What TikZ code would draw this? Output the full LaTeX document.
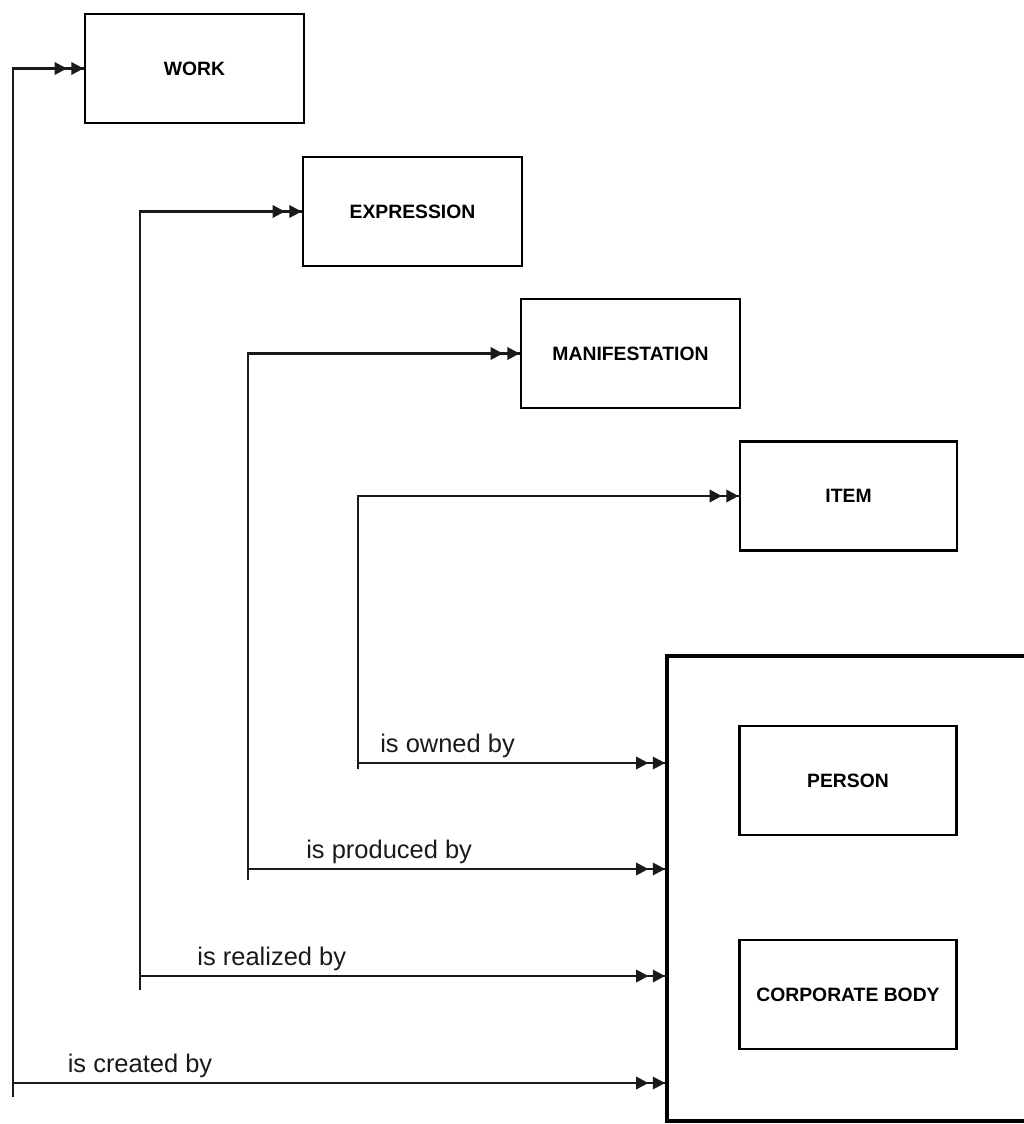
\documentclass[tikz,border=0pt]{standalone}
\usepackage{fontspec}
\setmainfont{Liberation Sans}
\usetikzlibrary{
    arrows.meta,
    positioning
}
\definecolor{frbrline}{HTML}{1A1A1A}
\tikzset{
    % Entity box
    entitybox/.style={
        rectangle,
        draw=black,
        line width=1.6pt,
        fill=white,
        font=\fontsize{11}{13}\selectfont\bfseries,
        minimum width=4.38cm,
        minimum height=2.18cm,
        inner sep=0pt,
        align=center
    },
    % Group 2 frame (runs off the page)
    groupbox/.style={
        rectangle,
        draw=black,
        line width=2.2pt,
        minimum width=7.6cm,
        minimum height=9.3cm,
        inner sep=0pt
    },
    % Double-headed relationship arrow
    relarrow/.style={
        draw=frbrline,
        line width=1.4pt,
        postaction={draw=frbrline, line width=1.4pt,
            -{Triangle[length=7pt,width=7pt,sep=2.5pt]Triangle[length=7pt,width=7pt]}}
    },
    % Relationship label
    rellabel/.style={
        font=\fontsize{14.5}{17}\selectfont,
        text=frbrline,
        inner sep=0pt
    }
}
\begin{document}
\begin{tikzpicture}[x=0.02cm, y=-0.02cm]
    \useasboundingbox (0,0) rectangle (1023,1124);

    % Group 1 entities
    \node[entitybox] (work) at (194.5,68.5) {WORK};
    \node[entitybox] (expression) at (412.5,211.5) {EXPRESSION};
    \node[entitybox] (manifestation) at (630.5,353.5) {MANIFESTATION};
    \node[entitybox, minimum width=4.34cm] (item) at (848.5,496) {ITEM};

    % Group 2 frame and entities
    \node[groupbox] (group) at (857,888.5) {};
    \node[entitybox, minimum width=4.34cm] (person) at (848,780.5) {PERSON};
    \node[entitybox, minimum width=4.34cm] (corporate) at (848,994.5) {CORPORATE BODY};

    % Ends of the vertical lines
    \coordinate (e1) at (13,1097);
    \coordinate (e2) at (140,990);
    \coordinate (e3) at (248,880);
    \coordinate (e4) at (358,769);

    % Branch points of the relationships
    \coordinate (r1) at (13,1083);
    \coordinate (r2) at (140,976);
    \coordinate (r3) at (248,869);
    \coordinate (r4) at (358,763);

    % Up to group 1
    \draw[relarrow] (e1) |- (work.west);
    \draw[relarrow] (e2) |- (expression.west);
    \draw[relarrow] (e3) |- (manifestation.west);
    \draw[relarrow] (e4) |- (item.west);

    % Across to group 2
    \draw[relarrow] (r1) -- (r1 -| group.west);
    \draw[relarrow] (r2) -- (r2 -| group.west);
    \draw[relarrow] (r3) -- (r3 -| group.west);
    \draw[relarrow] (r4) -- (r4 -| group.west);

    % Relationship labels
    \node[rellabel, above right=3pt and 31pt of r1] {is created by};
    \node[rellabel, above right=3pt and 32.5pt of r2] {is realized by};
    \node[rellabel, above right=3pt and 33pt of r3] {is produced by};
    \node[rellabel, above right=3pt and 12.5pt of r4] {is owned by};

\end{tikzpicture}
\end{document}
